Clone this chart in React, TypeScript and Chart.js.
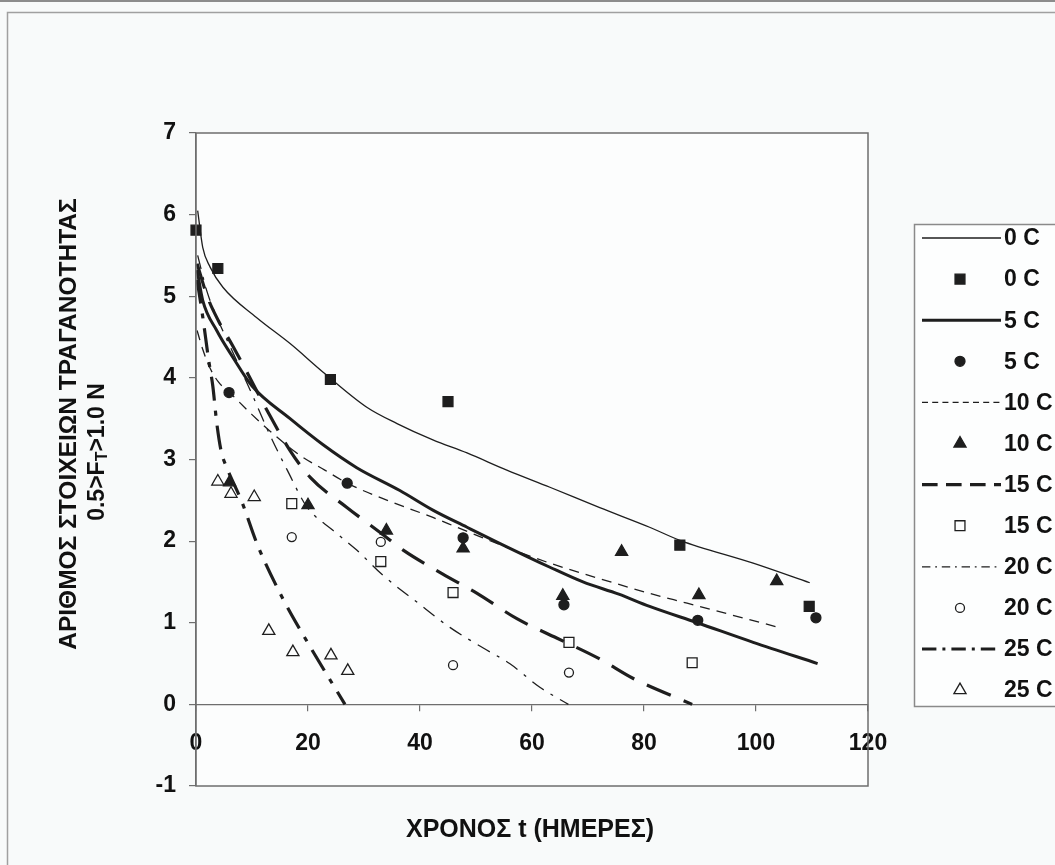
import React, { useEffect, useRef } from 'react';
import { Chart, registerables } from 'chart.js';

Chart.register(...registerables);

// ---- axis ticks ----
const X_TICKS = [0, 20, 40, 60, 80, 100, 120];
const Y_MIN = -1;
const Y_MAX = 7;

// ---- legend labels ----
const SERIES_LABELS = ['0 C', '5 C', '10 C', '15 C', '20 C', '25 C'];

// ---- observed points (days, count) ----
const obs0T = [0, 3.9, 24, 45, 86.4, 109.5];
const obs0V = [5.81, 5.34, 3.98, 3.71, 1.95, 1.2];
const obs5T = [5.9, 27, 47.7, 65.7, 89.6, 110.7];
const obs5V = [3.82, 2.71, 2.04, 1.22, 1.03, 1.06];
const obs10T = [6, 20, 34, 47.7, 65.5, 76, 89.8, 103.7];
const obs10V = [2.72, 2.44, 2.13, 1.91, 1.33, 1.87, 1.34, 1.51];
const obs15T = [17.1, 33, 45.9, 66.6, 88.6];
const obs15V = [2.46, 1.75, 1.37, 0.76, 0.51];
const obs20T = [17.1, 33, 45.9, 66.6];
const obs20V = [2.05, 1.99, 0.48, 0.39];
const obs25T = [3.9, 6.25, 10.4, 13, 17.3, 24.1, 27.1];
const obs25V = [2.73, 2.58, 2.54, 0.9, 0.64, 0.6, 0.41];

// ---- fitted curves ----
const fit0T = [0.3, 1.2, 2.5, 4.8, 10.8, 16.8, 22.7, 30.5, 35.9, 42.3, 48.4, 55.5, 63.2, 72.1, 81, 86.4, 99.5, 109.6];
const fit0V = [6.05, 5.6, 5.36, 5.11, 4.74, 4.42, 4.07, 3.64, 3.44, 3.24, 3.08, 2.87, 2.66, 2.41, 2.17, 2.01, 1.73, 1.49];
const fit5T = [0.2, 1.2, 3.7, 6.6, 10, 16.8, 22.7, 28.7, 36.4, 42.3, 48.4, 54.3, 63.2, 69.1, 75.5, 81, 89.5, 99.5, 111];
const fit5V = [5.32, 4.95, 4.58, 4.25, 3.9, 3.5, 3.18, 2.9, 2.62, 2.38, 2.17, 1.97, 1.68, 1.5, 1.35, 1.2, 1.0, 0.76, 0.5];
const fit10T = [0.2, 1.2, 2.5, 4, 6, 10, 14, 18.6, 23, 27, 33.4, 42.3, 46.6, 56, 63.2, 72.1, 81, 87.7, 103.7];
const fit10V = [4.58, 4.35, 4.12, 3.95, 3.82, 3.55, 3.3, 3.05, 2.87, 2.71, 2.52, 2.29, 2.17, 1.91, 1.73, 1.54, 1.36, 1.24, 0.95];
const fit15T = [0.2, 2, 4, 6.5, 9.1, 12.7, 16.8, 20.4, 27, 33, 37, 44, 50.2, 57.3, 64.5, 72, 78, 88.6];
const fit15V = [5.4, 5.0, 4.7, 4.4, 4.07, 3.6, 3.11, 2.78, 2.41, 2.1, 1.89, 1.6, 1.36, 1.05, 0.81, 0.56, 0.32, 0.0];
const fit20T = [0.3, 2, 4, 7, 10, 13.2, 16.3, 19.8, 24.5, 28.7, 33.4, 39.5, 45.4, 51.3, 56, 61.4, 66.5];
const fit20V = [5.5, 5.05, 4.7, 4.25, 3.8, 3.3, 2.87, 2.42, 2.13, 1.89, 1.58, 1.25, 0.94, 0.69, 0.5, 0.21, 0.0];
const fit25T = [0.2, 1.2, 2.3, 3, 3.7, 4.5, 5.5, 8.2, 11, 15.4, 20, 26.6];
const fit25V = [5.2, 4.75, 4.2, 3.9, 3.45, 3.1, 2.9, 2.48, 1.95, 1.31, 0.75, 0.0];

const INK = '#1e1e1e';
const FONT = '"Liberation Sans", Arial, sans-serif';

const pts = (t: number[], v: number[]) => t.map((x, i) => ({ x, y: v[i] }));

type LineStyle = { width: number; dash: number[] };
const LINE_STYLES: LineStyle[] = [
  { width: 1.3, dash: [] },
  { width: 3, dash: [] },
  { width: 1.3, dash: [10, 7] },
  { width: 3.2, dash: [26, 14] },
  { width: 1.3, dash: [14, 8, 3, 8] },
  { width: 3.2, dash: [24, 10, 5, 10] },
];
type MarkStyle = { shape: 'rect' | 'circle' | 'triangle'; filled: boolean; r: number };
const MARK_STYLES: MarkStyle[] = [
  { shape: 'rect', filled: true, r: 7 },
  { shape: 'circle', filled: true, r: 5 },
  { shape: 'triangle', filled: true, r: 7 },
  { shape: 'rect', filled: false, r: 7 },
  { shape: 'circle', filled: false, r: 4.5 },
  { shape: 'triangle', filled: false, r: 7 },
];

function drawMark(ctx: CanvasRenderingContext2D, m: MarkStyle, x: number, y: number) {
  ctx.save();
  ctx.beginPath();
  if (m.shape === 'rect') {
    const s = m.r * Math.SQRT1_2;
    ctx.rect(x - s, y - s, 2 * s, 2 * s);
  } else if (m.shape === 'circle') {
    ctx.arc(x, y, m.r, 0, Math.PI * 2);
  } else {
    ctx.moveTo(x, y - m.r);
    ctx.lineTo(x + Math.sin(Math.PI * 2 / 3) * m.r, y - Math.cos(Math.PI * 2 / 3) * m.r);
    ctx.lineTo(x + Math.sin(Math.PI * 4 / 3) * m.r, y - Math.cos(Math.PI * 4 / 3) * m.r);
    ctx.closePath();
  }
  if (m.filled) {
    ctx.fillStyle = INK;
    ctx.fill();
  }
  ctx.strokeStyle = INK;
  ctx.lineWidth = 1.3;
  ctx.stroke();
  ctx.restore();
}

const decorPlugin = {
  id: 'decor',
  beforeDraw(chart: any) {
    const ctx: CanvasRenderingContext2D = chart.ctx;
    ctx.save();
    ctx.fillStyle = '#f8fafa';
    ctx.fillRect(0, 0, chart.width, chart.height);
    ctx.fillStyle = '#8c8c8c';
    ctx.fillRect(0, 0, chart.width, 2);
    ctx.strokeStyle = '#a0a0a0';
    ctx.lineWidth = 1.5;
    ctx.beginPath();
    ctx.moveTo(7.5, chart.height + 2);
    ctx.lineTo(7.5, 12.5);
    ctx.lineTo(chart.width + 2, 12.5);
    ctx.stroke();
    const a = chart.chartArea;
    ctx.fillStyle = '#fcfdfd';
    ctx.fillRect(a.left, a.top, a.right - a.left, a.bottom - a.top);
    ctx.restore();
  },
  afterDraw(chart: any) {
    const ctx: CanvasRenderingContext2D = chart.ctx;
    const a = chart.chartArea;
    ctx.save();
    // plot frame
    ctx.strokeStyle = '#6e6e6e';
    ctx.lineWidth = 1.5;
    ctx.strokeRect(a.left, a.top, a.right - a.left, a.bottom - a.top);

    // legend
    const lx = 914, ly = 224, lb = 706;
    ctx.fillStyle = '#fdfefe';
    ctx.fillRect(lx, ly, chart.width - lx + 5, lb - ly);
    ctx.strokeStyle = '#8a8a8a';
    ctx.lineWidth = 1.5;
    ctx.strokeRect(lx + 0.5, ly + 0.5, chart.width - lx + 5, lb - ly);
    ctx.font = `bold 23px ${FONT}`;
    ctx.textBaseline = 'middle';
    ctx.textAlign = 'left';
    for (let i = 0; i < SERIES_LABELS.length; i++) {
      const yl = 238 + 41.1 * (2 * i);
      const ym = 238 + 41.1 * (2 * i + 1);
      const ls = LINE_STYLES[i];
      ctx.save();
      ctx.strokeStyle = INK;
      ctx.lineWidth = ls.width;
      ctx.setLineDash(ls.dash.length ? ls.dash.map((d) => d * 0.6) : []);
      ctx.beginPath();
      ctx.moveTo(922, yl);
      ctx.lineTo(1001, yl);
      ctx.stroke();
      ctx.restore();
      drawMark(ctx, MARK_STYLES[i], 960, ym);
      ctx.fillStyle = '#111';
      ctx.fillText(SERIES_LABELS[i], 1004, yl + 1);
      ctx.fillText(SERIES_LABELS[i], 1004, ym + 1);
    }

    // x title
    ctx.fillStyle = '#111';
    ctx.font = `bold 25px ${FONT}`;
    ctx.textAlign = 'center';
    ctx.textBaseline = 'middle';
    ctx.fillText('ΧΡΟΝΟΣ t (ΗΜΕΡΕΣ)', 530, 830);

    // y title (rotated, two lines, subscript T)
    ctx.save();
    ctx.rotate(-Math.PI / 2);
    const cy = 424;
    ctx.font = `bold 24.5px ${FONT}`;
    ctx.textAlign = 'center';
    ctx.textBaseline = 'middle';
    ctx.fillText('ΑΡΙΘΜΟΣ ΣΤΟΙΧΕΙΩΝ ΤΡΑΓΑΝΟΤΗΤΑΣ', -cy, 69);
    const big = `bold 23px ${FONT}`;
    const small = `bold 16px ${FONT}`;
    ctx.textAlign = 'left';
    ctx.textBaseline = 'alphabetic';
    ctx.font = big;
    const p1 = '0.5>F', p3 = '>1.0 N';
    const w1 = ctx.measureText(p1).width;
    const w3 = ctx.measureText(p3).width;
    ctx.font = small;
    const w2 = ctx.measureText('T').width;
    const x0 = -452 - (w1 + w2 + w3) / 2;
    const base = 104;
    ctx.font = big;
    ctx.fillText(p1, x0, base);
    ctx.font = small;
    ctx.fillText('T', x0 + w1, base + 3);
    ctx.font = big;
    ctx.fillText(p3, x0 + w1 + w2, base);
    ctx.restore();

    ctx.restore();
  },
};

export default function App() {
  const ref = useRef<HTMLCanvasElement>(null);
  useEffect(() => {
    document.body.style.margin = '0';
    const canvas = ref.current;
    if (!canvas) return;
    const obsT = [obs0T, obs5T, obs10T, obs15T, obs20T, obs25T];
    const obsV = [obs0V, obs5V, obs10V, obs15V, obs20V, obs25V];
    const fitT = [fit0T, fit5T, fit10T, fit15T, fit20T, fit25T];
    const fitV = [fit0V, fit5V, fit10V, fit15V, fit20V, fit25V];
    const datasets: any[] = [];
    SERIES_LABELS.forEach((label, i) => {
      const ls = LINE_STYLES[i];
      datasets.push({
        label: label + ' fit',
        data: pts(fitT[i], fitV[i]),
        showLine: true,
        borderColor: INK,
        borderWidth: ls.width,
        borderDash: ls.dash,
        pointRadius: 0,
        cubicInterpolationMode: 'monotone',
        fill: false,
      });
    });
    SERIES_LABELS.forEach((label, i) => {
      const m = MARK_STYLES[i];
      datasets.push({
        label: label,
        data: pts(obsT[i], obsV[i]),
        showLine: false,
        pointStyle: m.shape,
        pointRadius: m.r,
        pointBackgroundColor: m.filled ? INK : 'rgba(0,0,0,0)',
        pointBorderColor: INK,
        pointBorderWidth: 1.3,
        clip: false,
      });
    });
    const tickFont = { family: FONT, size: 23, weight: 'bold' as const };
    const chart = new Chart(canvas, {
      type: 'scatter',
      data: { datasets },
      options: {
        animation: false,
        responsive: false,
        maintainAspectRatio: false,
        layout: { padding: { top: 133, bottom: 79, left: 0, right: 187 } },
        plugins: { legend: { display: false }, tooltip: { enabled: false } },
        scales: {
          x: {
            type: 'linear',
            min: 0,
            max: 120,
            position: { y: 0 } as any,
            afterBuildTicks: (s: any) => {
              s.ticks = X_TICKS.map((v) => ({ value: v }));
            },
            grid: { drawOnChartArea: false, drawTicks: true, tickLength: 6, color: '#6e6e6e', lineWidth: 1.2 },
            border: { display: true, color: '#6e6e6e', width: 1.2 },
            ticks: { font: tickFont, color: '#111', padding: 19, maxRotation: 0, autoSkip: false },
          },
          y: {
            type: 'linear',
            min: Y_MIN,
            max: Y_MAX,
            position: 'left',
            afterFit: (s: any) => {
              s.width = 196;
            },
            grid: { drawOnChartArea: false, drawTicks: true, tickLength: 7, color: '#6e6e6e', lineWidth: 1.2 },
            border: { display: true, color: '#6e6e6e', width: 1.2 },
            ticks: { stepSize: 1, font: tickFont, color: '#111', padding: 13 },
          },
        },
      },
      plugins: [decorPlugin],
    });
    return () => chart.destroy();
  }, []);
  return <canvas ref={ref} width={1055} height={865} style={{ display: 'block' }} />;
}
